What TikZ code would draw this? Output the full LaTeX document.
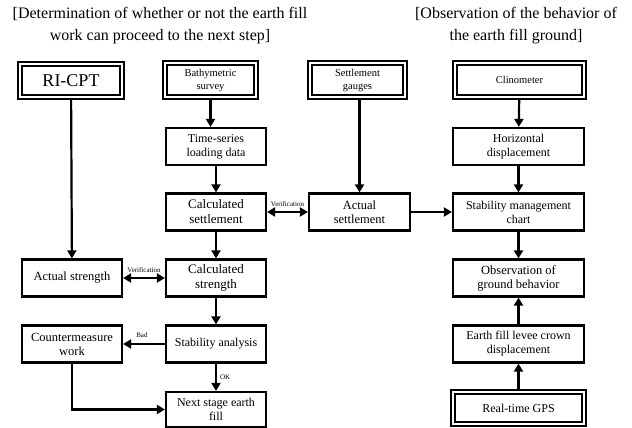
\documentclass[tikz,border=0pt]{standalone}
\usepackage{fontspec}
\setmainfont{Liberation Serif}
\usetikzlibrary{arrows.meta}
\tikzset{
  box/.style={draw, line width=2.2pt, minimum width=100pt, minimum height=37pt, align=center, inner sep=1pt, font=\fontsize{12}{14}\selectfont},
  dbox/.style={draw, line width=2pt, double=white, double distance=2pt, align=center, inner sep=1pt, font=\fontsize{10.5}{13}\selectfont},
  arr/.style={line width=2.2pt, -{Triangle[length=8pt,width=9pt]}},
  darr/.style={line width=2.2pt, {Triangle[length=8pt,width=9pt]}-{Triangle[length=8pt,width=9pt]}},
  lbl/.style={font=\fontsize{7}{8}\selectfont, inner sep=1pt},
  ttl/.style={align=center, font=\fontsize{16}{22}\selectfont}
}
\begin{document}
\begin{tikzpicture}[x=1pt,y=-1pt]
\useasboundingbox (0,0) rectangle (632,428);
% titles
\node[ttl] (t1) at (160,26) {[Determination of whether or not the earth fill\\work can proceed to the next step]};
\node[ttl] (t2) at (516,26) {[Observation of the behavior of\\the earth fill ground]};
% double boxes
\node[dbox, minimum width=102pt, minimum height=33pt, font=\fontsize{18}{20}\selectfont] (ri) at (71,80.5) {RI-CPT};
\node[dbox, minimum width=91pt, minimum height=34pt] (bath) at (210.5,80) {Bathymetric\\survey};
\node[dbox, minimum width=95pt, minimum height=34pt] (sg) at (357.5,80) {Settlement\\gauges};
\node[dbox, minimum width=129pt, minimum height=34pt] (cli) at (519.5,80) {Clinometer};
\node[dbox, minimum width=131pt, minimum height=32pt, font=\fontsize{12}{14}\selectfont] (gps) at (518.5,408) {Real-time GPS};
% single boxes
\node[box] (ts) at (216,146.5) {Time-series\\loading data};
\node[box, font=\fontsize{13}{15}\selectfont] (cs) at (216,212) {Calculated\\settlement};
\node[box, font=\fontsize{13}{15}\selectfont] (cst) at (216,278) {Calculated\\strength};
\node[box] (sa) at (216,344) {Stability analysis};
\node[box, minimum height=35pt] (ns) at (216,409.5) {Next stage earth\\fill};
\node[box, font=\fontsize{12.5}{14}\selectfont] (as) at (72,278) {Actual strength};
\node[box, font=\fontsize{12.5}{14}\selectfont] (cw) at (72,344) {Countermeasure\\work};
\node[box, minimum width=101pt, font=\fontsize{12.5}{14}\selectfont] (aset) at (359.5,212) {Actual\\settlement};
\node[box, minimum width=131pt] (hd) at (518.5,146.5) {Horizontal\\displacement};
\node[box, minimum width=131pt] (smc) at (518.5,212) {Stability management\\chart};
\node[box, minimum width=131pt, font=\fontsize{12.5}{14}\selectfont] (ogb) at (518.5,278) {Observation of\\ground behavior};
\node[box, minimum width=131pt] (efl) at (518.5,344) {Earth fill levee crown\\displacement};
% connectors
\draw[arr] (bath.south) -- (bath.south |- ts.north);
\draw[arr] (ts) -- (cs);
\draw[arr] (cs) -- (cst);
\draw[arr] (cst) -- (sa);
\draw[arr] (sa) -- node[lbl, right=2pt] {OK} (ns);
\draw[arr] (sa) -- node[lbl, above=4pt, pos=0.55] {Bad} (cw);
\draw[arr] (cw.south) |- (ns.west);
\draw[arr] (ri) -- (as);
\draw[darr] (as) -- node[lbl, above=3pt] {Verification} (cst);
\draw[darr] (cs) -- node[lbl, above=3pt] {Verification} (aset);
\draw[arr] (sg.south -| aset.north) -- (aset.north);
\draw[arr] (aset) -- (smc);
\draw[arr] (cli) -- (hd);
\draw[arr] (hd) -- (smc);
\draw[arr] (smc) -- (ogb);
\draw[arr] (efl) -- (ogb);
\draw[arr] (gps) -- (efl);
\end{tikzpicture}
\end{document}
